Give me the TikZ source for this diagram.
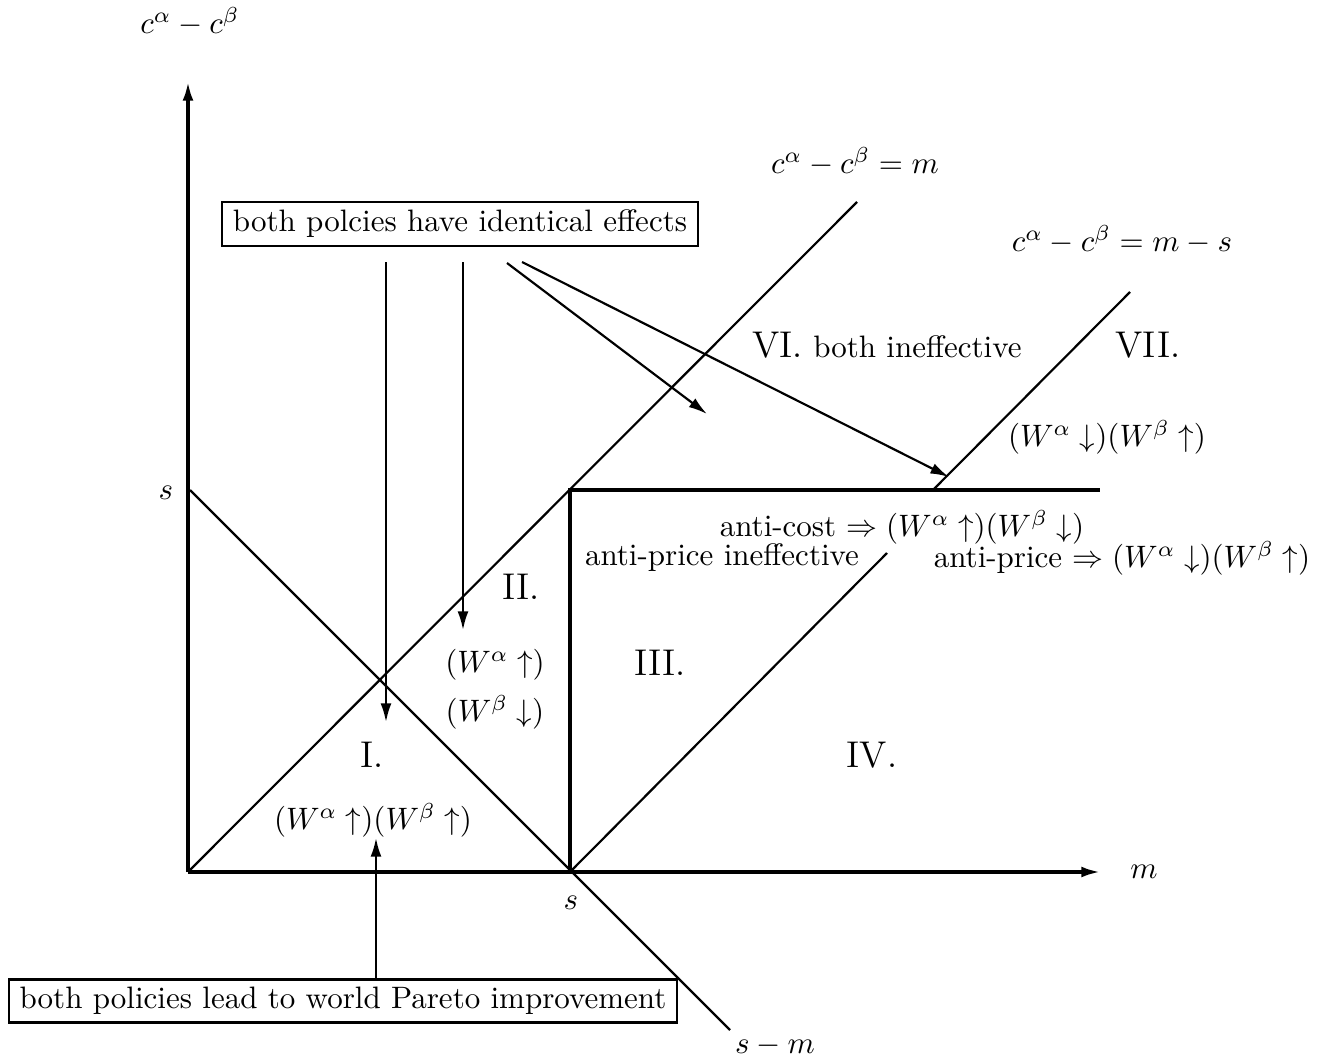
\documentclass[tikz,border=0pt]{standalone}
\usepackage{amsmath,amssymb}
\usetikzlibrary{arrows.meta}

\begin{document}
\begin{tikzpicture}[
  x=0.01133cm, y=-0.01133cm,
  axis/.style={line width=1pt, -{Latex[length=6pt,width=3.5pt]}},
  bound/.style={line width=1pt},
  curve/.style={line width=0.7pt},
  arr/.style={line width=0.7pt, -{Latex[length=6pt,width=3.5pt]}},
  note/.style={draw, line width=0.7pt, inner xsep=3.5pt, inner ysep=2.5pt},
  region/.style={font=\large, inner sep=1pt},
  lbl/.style={inner sep=1pt}
]
  \useasboundingbox (0,0) rectangle (1330,1062);

  % axes
  \coordinate (O) at (188,872);
  \coordinate (ytop) at (188,82);
  \coordinate (xend) at (1100,872);
  \draw[axis] (O) -- (ytop);
  \draw[axis] (O) -- (xend);

  % lines of the diagram
  \coordinate (sy) at (190,490);
  \coordinate (sx) at (570,872);
  \coordinate (sc) at (570,490);
  \coordinate (smEnd) at (730,1030);
  \coordinate (mEnd) at (857,202);
  \coordinate (hEnd) at (1100,490);
  \coordinate (msLow) at (887,553);
  \coordinate (msUp) at (933,490);
  \coordinate (msEnd) at (1130,292);
  \draw[curve] (sy) -- (smEnd);
  \draw[curve] (O) -- (mEnd);
  \draw[bound] (sx) -- (sc) -- (hEnd);
  \draw[curve] (sx) -- (msLow);
  \draw[curve] (msUp) -- (msEnd);

  % axis labels
  \node[lbl] (ylab) at (190,22) {$c^\alpha - c^\beta$};
  \node[lbl] (xlab) at (1144,872) {$m$};
  \node[lbl] (sylab) at (166,493) {$s$};
  \node[lbl] (sxlab) at (571,903) {$s$};
  \node[lbl] (smlab) at (775,1046) {$s-m$};
  \node[lbl] (mlab) at (855,162) {$c^\alpha - c^\beta = m$};
  \node[lbl] (mslab) at (1122,240) {$c^\alpha - c^\beta = m - s$};

  % regions
  \node[region] (rI) at (372,755) {I.};
  \node[region] (rII) at (521,587) {II.};
  \node[region] (rIII) at (660,663) {III.};
  \node[region] (rIV) at (872,755) {IV.};
  \node[lbl] (rVI) at (887,345) {{\large VI.} both ineffective};
  \node[region] (rVII) at (1148,345) {VII.};

  % effects
  \node[lbl] (effI) at (373,820) {$(W^\alpha\uparrow)(W^\beta\uparrow)$};
  \node[lbl] (effIIa) at (495,665) {$(W^\alpha\uparrow)$};
  \node[lbl] (effIIb) at (495,712) {$(W^\beta\downarrow)$};
  \node[lbl] (effVII) at (1107,437) {$(W^\alpha\downarrow)(W^\beta\uparrow)$};
  \node[lbl] (cost) at (902,527) {anti-cost $\Rightarrow (W^\alpha\uparrow)(W^\beta\downarrow)$};
  \node[lbl] (pineff) at (722,558) {anti-price ineffective};
  \node[lbl] (price) at (1122,558) {anti-price $\Rightarrow (W^\alpha\downarrow)(W^\beta\uparrow)$};

  % boxes
  \node[note] (identical) at (460,224) {both polcies have identical effects};
  \node[note] (pareto) at (343,1001) {both policies lead to world Pareto improvement};

  % arrows from the boxes
  \coordinate (a1s) at (386,262);
  \coordinate (a1e) at (386,722);
  \coordinate (a2s) at (463,262);
  \coordinate (a2e) at (463,630);
  \coordinate (a3s) at (507,263);
  \coordinate (a3e) at (707,414);
  \coordinate (a4s) at (522,262);
  \coordinate (a4e) at (949,477);
  \coordinate (a5e) at (376,838);
  \draw[arr] (a1s) -- (a1e);
  \draw[arr] (a2s) -- (a2e);
  \draw[arr] (a3s) -- (a3e);
  \draw[arr] (a4s) -- (a4e);
  \draw[arr] (pareto.north -| a5e) -- (a5e);
\end{tikzpicture}
\end{document}
